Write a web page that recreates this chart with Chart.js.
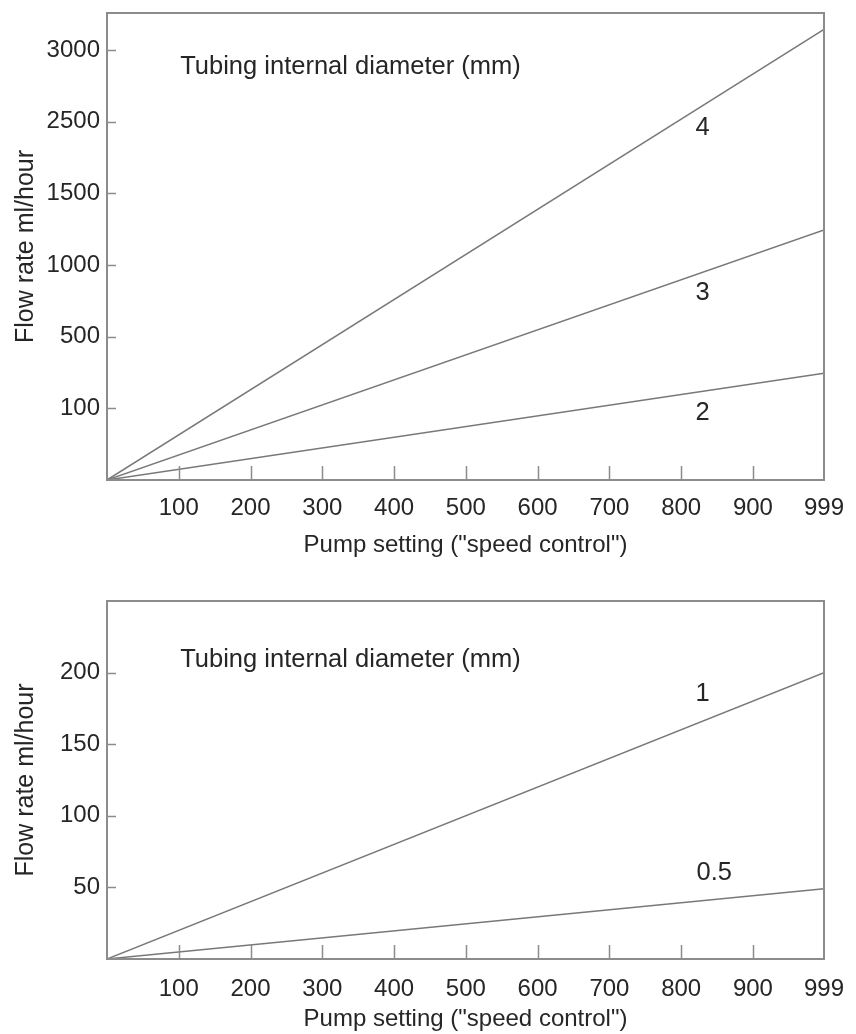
<!DOCTYPE html>
<html>
<head>
<meta charset="utf-8">
<script src="https://cdn.jsdelivr.net/npm/chart.js@4/dist/chart.umd.min.js"></script>
<style>
  html, body { margin: 0; padding: 0; background: #fff; }
  #wrap { position: relative; width: 856px; height: 1034px; }
  .box { position: absolute; left: 0; width: 856px; }
</style>
</head>
<body>
<div id="wrap">
  <div class="box" style="top:0;height:560px"><canvas id="chartTop"></canvas></div>
  <div class="box" style="top:560px;height:474px"><canvas id="chartBottom"></canvas></div>
</div>
<script>
// pump settings (x axis)
const pumpSetting = [0, 999];
const xTicks = [100, 200, 300, 400, 500, 600, 700, 800, 900, 999];

// top panel: the y axis is drawn with evenly spaced, non-linear labels,
// so values are given in axis steps (1 step = one labelled tick)
const topTickLabels = ["", "100", "500", "1000", "1500", "2500", "3000"];
const tube4 = [0, 6.29];
const tube3 = [0, 3.49];
const tube2 = [0, 1.49];

// bottom panel: ml/hour
const bottomTicks = [50, 100, 150, 200];
const tube1 = [0, 200];
const tube05 = [0, 49];

const FONT = "'Liberation Sans', Arial, sans-serif";
const TEXT = "#262626";
const LINE = "#787878";
const FRAME = "#8c8c8c";

function toPoints(ys) {
  return pumpSetting.map((x, i) => ({ x: x, y: ys[i] }));
}

// draws the frame, inside tick marks and line labels
const decor = {
  id: "decor",
  afterDraw(chart, args, opts) {
    const ctx = chart.ctx;
    const a = chart.chartArea;
    const xs = chart.scales.x, ys = chart.scales.y;
    ctx.save();
    ctx.strokeStyle = FRAME;
    ctx.lineWidth = 2;
    ctx.strokeRect(a.left, a.top, a.right - a.left, a.bottom - a.top);
    ctx.lineWidth = 1.5;
    ctx.beginPath();
    xs.ticks.forEach(t => {
      if (t.value >= 999) return;
      const px = Math.round(xs.getPixelForValue(t.value)) + 0.5;
      ctx.moveTo(px, a.bottom);
      ctx.lineTo(px, a.bottom - 14);
    });
    ys.ticks.forEach(t => {
      const py = Math.round(ys.getPixelForValue(t.value)) + 0.5;
      ctx.moveTo(a.left, py);
      ctx.lineTo(a.left + 9, py);
    });
    ctx.stroke();
    ctx.fillStyle = TEXT;
    ctx.font = "25.5px " + FONT;
    ctx.textBaseline = "middle";
    opts.labels.forEach(l => {
      ctx.textAlign = l.align || "center";
      ctx.fillText(l.text, xs.getPixelForValue(l.x), ys.getPixelForValue(l.y));
    });
    ctx.restore();
  }
};

function makeChart(id, datasets, yMax, yTicks, yLabel, labels, padTop, xHeight, xPad) {
  return new Chart(document.getElementById(id), {
    type: "line",
    data: { datasets: datasets },
    options: {
      responsive: true,
      maintainAspectRatio: false,
      animation: false,
      layout: { padding: { top: padTop, right: 32, left: 11, bottom: 0 } },
      elements: { point: { radius: 0 }, line: { borderWidth: 1.5, borderColor: LINE, tension: 0 } },
      plugins: { legend: { display: false }, tooltip: { enabled: false }, decor: { labels: labels } },
      scales: {
        x: {
          type: "linear", min: 0, max: 999,
          afterBuildTicks: s => { s.ticks = xTicks.map(v => ({ value: v })); },
          afterFit: s => { s.height = xHeight; s.paddingLeft = 0; s.paddingRight = 0; },
          grid: { display: false, drawTicks: false, tickLength: 0 },
          border: { display: false },
          ticks: { color: TEXT, font: { family: FONT, size: 24 }, padding: xPad, maxRotation: 0, autoSkip: false,
                   callback: v => String(v) },
          title: { display: true, text: 'Pump setting ("speed control")', color: TEXT,
                   font: { family: FONT, size: 24 }, padding: 0 }
        },
        y: {
          type: "linear", min: 0, max: yMax,
          afterBuildTicks: s => { s.ticks = yTicks.ticks.map(v => ({ value: v })); },
          afterFit: s => { s.width = 96; s.paddingTop = 0; s.paddingBottom = 0; },
          grid: { display: false, drawTicks: false, tickLength: 0 },
          border: { display: false },
          ticks: { color: TEXT, font: { family: FONT, size: 24 }, padding: 7, autoSkip: false,
                   callback: yTicks.label },
          title: { display: true, text: yLabel, color: TEXT, font: { family: FONT, size: 25 }, padding: 0 }
        }
      }
    },
    plugins: [decor]
  });
}

makeChart("chartTop",
  [tube4, tube3, tube2].map((d, i) => ({ label: ["4", "3", "2"][i], data: toPoints(d) })),
  6.52,
  { ticks: [1, 2, 3, 4, 5, 6], label: v => topTickLabels[v] },
  "Flow rate ml/hour",
  [
    { text: "Tubing internal diameter (mm)", x: 102, y: 5.76, align: "left" },
    { text: "4", x: 830, y: 4.91 },
    { text: "3", x: 830, y: 2.61 },
    { text: "2", x: 830, y: 0.93 }
  ],
  13, 80, 14);

makeChart("chartBottom",
  [tube1, tube05].map((d, i) => ({ label: ["1", "0.5"][i], data: toPoints(d) })),
  250,
  { ticks: bottomTicks, label: v => String(v) },
  "Flow rate ml/hour",
  [
    { text: "Tubing internal diameter (mm)", x: 102, y: 209, align: "left" },
    { text: "1", x: 830, y: 185 },
    { text: "0.5", x: 846, y: 60 }
  ],
  41, 75, 16);
</script>
</body>
</html>
